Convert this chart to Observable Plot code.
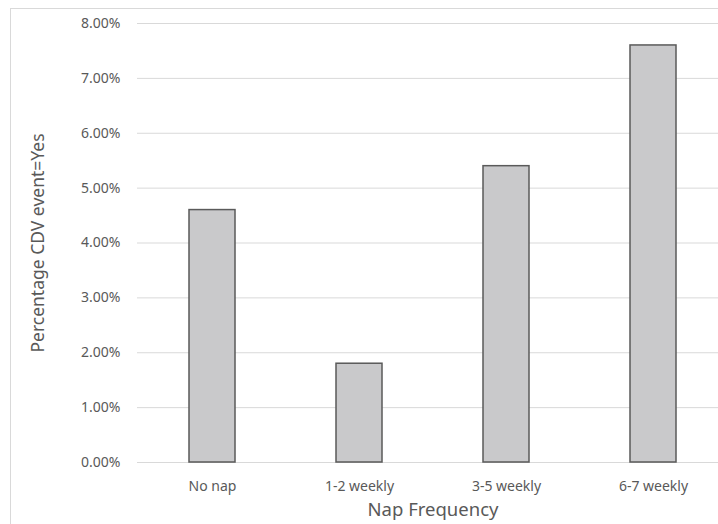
<!DOCTYPE html>
<html>
<head>
<meta charset="utf-8">
<script src="https://cdn.jsdelivr.net/npm/d3@7"></script>
<script src="https://cdn.jsdelivr.net/npm/@observablehq/plot@0.6"></script>
<style>
  html, body { margin: 0; padding: 0; background: #fff; overflow: hidden; }
  #frame { position: absolute; left: 10px; top: 8px; width: 800px; height: 600px; border: 1px solid #d9d9d9; box-sizing: border-box; }
  #chart { position: absolute; left: 0; top: 0; }
</style>
</head>
<body>
<div id="frame"></div>
<div id="chart"></div>
<script>
const categories = ["No nap", "1-2 weekly", "3-5 weekly", "6-7 weekly"];
const values = [0.046, 0.018, 0.054, 0.076];
const yTicks = [0, 0.01, 0.02, 0.03, 0.04, 0.05, 0.06, 0.07, 0.08];
const xTitle = "Nap Frequency";
const yTitle = "Percentage CDV event=Yes";

const data = categories.map((c, i) => ({ cat: c, value: values[i] }));
const font = "'Noto Sans', sans-serif";

const chart = Plot.plot({
  width: 718,
  height: 524,
  marginLeft: 137,
  marginRight: -10,
  marginTop: 23,
  marginBottom: 62,
  style: { fontFamily: font, background: "transparent", overflow: "visible" },
  x: { domain: categories, paddingInner: 0.685, paddingOuter: 0.3425, label: null, axis: null },
  y: { domain: [0, 0.08], label: null, axis: null },
  marks: [
    Plot.gridY(yTicks, { stroke: "#d9d9d9", strokeOpacity: 1, strokeWidth: 1 }),
    Plot.barY(data, { x: "cat", y: "value", fill: "#c9c9cb", stroke: "#5a5a5a", strokeWidth: 1.5 }),
    Plot.axisY(yTicks, { tickSize: 0, tickPadding: 17, tickFormat: d => (d * 100).toFixed(2) + "%", fontSize: 14, fill: "#595959", label: null }),
    Plot.axisX(categories, { tickSize: 0, tickPadding: 19, fontSize: 14, fill: "#595959", label: null }),
    Plot.text([xTitle], { frameAnchor: "bottom", dy: 53, fontSize: 18.5, fill: "#595959", text: d => d }),
    Plot.text([yTitle], { frameAnchor: "left", textAnchor: "middle", dx: -99, rotate: -90, fontSize: 17.5, fill: "#595959", text: d => d })
  ]
});
document.getElementById("chart").appendChild(chart);
</script>
</body>
</html>
